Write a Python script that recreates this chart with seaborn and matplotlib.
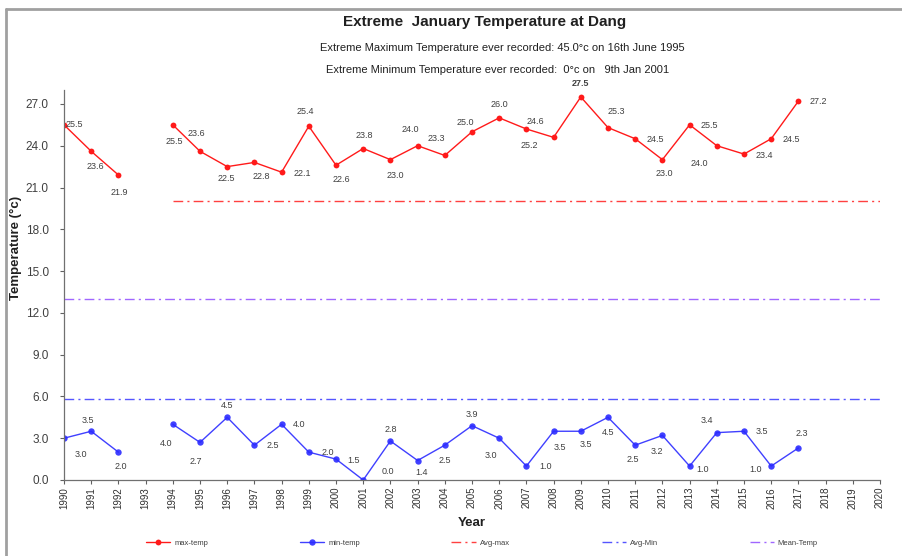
import numpy as np
import pandas as pd
import matplotlib
matplotlib.use("Agg")
import matplotlib.pyplot as plt
from matplotlib.lines import Line2D
import seaborn as sns

# ---------------- data ----------------
years = list(range(1990, 2018))
max_temp = [25.5, 23.6, 21.9, np.nan, 25.5, 23.6, 22.5, 22.8, 22.1, 25.4,
            22.6, 23.8, 23.0, 24.0, 23.3, 25.0, 26.0, 25.2, 24.6, 27.5,
            25.3, 24.5, 23.0, 25.5, 24.0, 23.4, 24.5, 27.2]
min_temp = [3.0, 3.5, 2.0, np.nan, 4.0, 2.7, 4.5, 2.5, 4.0, 2.0,
            1.5, 0.0, 2.8, 1.4, 2.5, 3.9, 3.0, 1.0, 3.5, 3.5,
            4.5, 2.5, 3.2, 1.0, 3.4, 3.5, 1.0, 2.3]
segment = [0, 0, 0, 0] + [1] * 24
avg_max = 20.0
avg_max_start = 1994
avg_min = 5.85
mean_temp = 13.0
x_ticks = list(range(1990, 2021))
y_ticks = [0, 3, 6, 9, 12, 15, 18, 21, 24, 27]

title = "Extreme  January Temperature at Dang"
sub1 = "Extreme Maximum Temperature ever recorded: 45.0\u00b0c on 16th June 1995"
sub2 = "Extreme Minimum Temperature ever recorded:  0\u00b0c on   9th Jan 2001"

# label offsets in pixels (dx right, dy down)
max_off = [(10, 0), (4, 15), (1, 18), None, (2, 17), (-4, -18), (-1, 12), (7, 14),
           (21, 1), (-3, -15), (5, 14), (1, -13), (5, 16), (-7, -16), (-8, -17),
           (-7, -9), (0, -13), (3, 16), (-18, -16), (0, -13), (8, -16), (20, 1),
           (2, 14), (20, 1), (-17, 18), (20, 1), (20, 1), (20, 0)]
min_off = [(17, 16), (-3, -11), (2, 14), None, (-7, 19), (-4, 19), (0, -12), (18, 0),
           (17, 0), (19, 0), (18, 1), (25, -8), (0, -11), (4, 12), (0, 15),
           (0, -11), (-8, 17), (19, 0), (6, 16), (5, 13), (0, 15), (-2, 14),
           (-5, 16), (13, 3), (-10, -12), (18, 0), (-16, 3), (3, -14)]

df = pd.DataFrame({"year": years, "max": max_temp, "min": min_temp, "seg": segment})

sns.set_theme(style="white")
plt.rcParams["font.family"] = ["Liberation Sans", "DejaVu Sans"]

fig = plt.figure(figsize=(9.03, 5.56), dpi=100)
ax = fig.add_axes([64 / 903, 1 - 480 / 556, (880 - 64) / 903, (480 - 90) / 556])

red = "#FF1A1A"
blue = "#2B2BFF"

sns.lineplot(data=df.dropna(), x="year", y="max", units="seg", estimator=None,
             color=red, lw=1.0, marker="o", markersize=4.2, markeredgewidth=0,
             ax=ax, label="max-temp")
sns.lineplot(data=df.dropna(), x="year", y="min", units="seg", estimator=None,
             color=blue, lw=1.0, marker="o", markersize=4.6, markeredgewidth=0,
             ax=ax, label="min-temp", alpha=0.9)

ax.hlines(avg_max, avg_max_start, x_ticks[-1], colors="#FF4040", lw=1.0,
          linestyles=(0, (7, 3, 1.5, 3)), label="Avg-max")
ax.hlines(avg_min, x_ticks[0], x_ticks[-1], colors="#5555FF", lw=1.0,
          linestyles=(0, (7, 3, 1.5, 3)), label="Avg-Min")
ax.hlines(mean_temp, x_ticks[0], x_ticks[-1], colors="#A066FF", lw=1.0,
          linestyles=(0, (7, 3, 1.5, 3)), label="Mean-Temp")

lab_color = "#404040"
for y, v, off in zip(years, max_temp, max_off):
    if off is None or np.isnan(v):
        continue
    bold = "bold" if y == 2009 else "normal"
    ax.annotate(f"{v:.1f}", (y, v), xytext=(off[0], -off[1]), textcoords="offset pixels",
                ha="center", va="center", fontsize=6.5, color=lab_color, fontweight=bold)
for y, v, off in zip(years, min_temp, min_off):
    if off is None or np.isnan(v):
        continue
    ax.annotate(f"{v:.1f}", (y, v), xytext=(off[0], -off[1]), textcoords="offset pixels",
                ha="center", va="center", fontsize=6.5, color=lab_color)

ax.set_xlim(x_ticks[0], x_ticks[-1])
ax.set_ylim(0, 28)
ax.set_xticks(x_ticks)
ax.set_xticklabels([str(t) for t in x_ticks], rotation=90, fontsize=7, color="#303030")
ax.set_yticks(y_ticks)
ax.set_yticklabels([f"{t:.1f}" for t in y_ticks], fontsize=8.5, color="#404040")
ax.tick_params(axis="both", which="both", direction="out", length=3, width=0.8,
               color="#606060", left=True, bottom=True)
ax.tick_params(axis="y", pad=8)
ax.tick_params(axis="x", pad=2)
for s in ["top", "right"]:
    ax.spines[s].set_visible(False)
for s in ["left", "bottom"]:
    ax.spines[s].set_color("#707070")
    ax.spines[s].set_linewidth(0.9)
ax.grid(False)

ax.set_xlabel("Year", fontsize=9.5, fontweight="bold", color="#202020", labelpad=6)
ax.set_ylabel("")
fig.text(16 / 903, 1 - 248 / 556, "Temperature (\u00b0c)", rotation=90, ha="center",
         va="center", fontsize=9.5, fontweight="bold", color="#202020")

fig.text(485 / 903, 1 - 22 / 556, title, ha="center", va="center", fontsize=11,
         fontweight="bold", color="#202020")
fig.text(502 / 903, 1 - 48 / 556, sub1, ha="center", va="center", fontsize=8, color="#202020")
fig.text(498 / 903, 1 - 70 / 556, sub2, ha="center", va="center", fontsize=8, color="#202020")

handles, labels = ax.get_legend_handles_labels()
uniq = {}
for h, l in zip(handles, labels):
    if l not in uniq:
        uniq[l] = h
if ax.get_legend() is not None:
    ax.get_legend().remove()
fig.legend(list(uniq.values()), list(uniq.keys()), loc="center",
           bbox_to_anchor=(482 / 903, 1 - 543 / 556),
           ncol=5, fontsize=5.5, frameon=False, handlelength=3.2, columnspacing=12,
           handletextpad=0.5, labelcolor="#404040")

# frame around figure (top and left)
fig.add_artist(Line2D([6 / 903, 1], [1 - 9 / 556, 1 - 9 / 556], transform=fig.transFigure,
                      color="#A0A0A0", lw=2))
fig.add_artist(Line2D([6 / 903, 6 / 903], [0, 1 - 9 / 556], transform=fig.transFigure,
                      color="#A0A0A0", lw=2))

fig.savefig("out.png", dpi=100)
